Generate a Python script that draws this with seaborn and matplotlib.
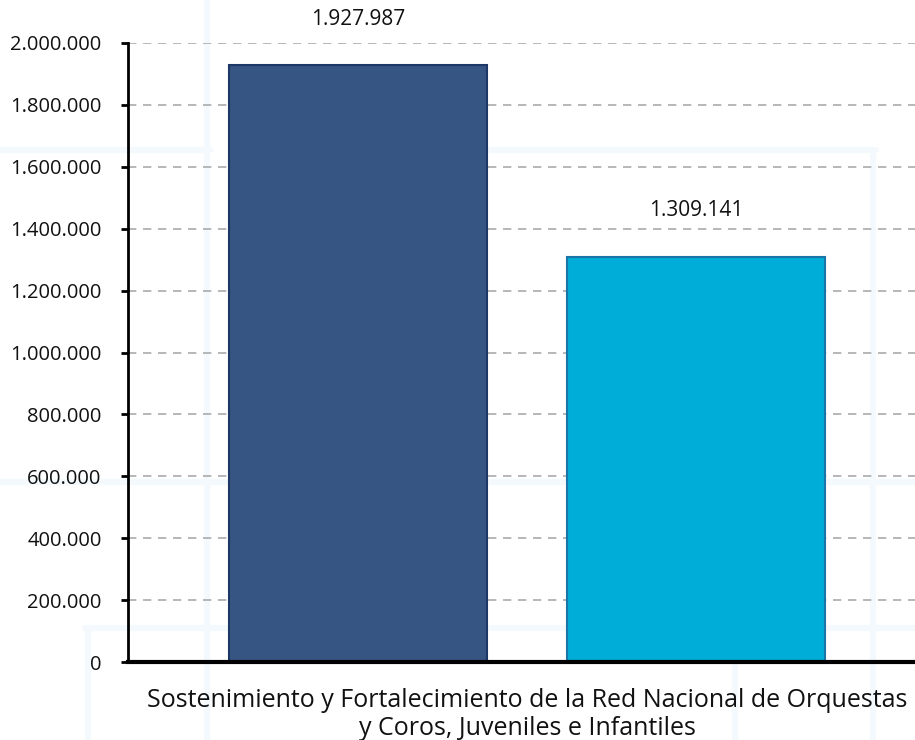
import matplotlib
matplotlib.use("Agg")
import matplotlib.pyplot as plt
from matplotlib.lines import Line2D
from matplotlib.ticker import FuncFormatter
import seaborn as sns
import pandas as pd

categories = ["Sostenimiento y Fortalecimiento de la Red Nacional de Orquestas\ny Coros, Juveniles e Infantiles"]
series = ["Serie 1", "Serie 2"]
values = [1927987, 1309141]
colors = ["#375582", "#00acd8"]
edges = ["#1d3867", "#1b75a8"]
yticks = [0, 200000, 400000, 600000, 800000, 1000000, 1200000, 1400000, 1600000, 1800000, 2000000]

df = pd.DataFrame({"cat": categories * len(series), "serie": series, "valor": values})

sns.set_style("white")
plt.rcParams["font.family"] = ["Open Sans", "DejaVu Sans"]

fig = plt.figure(figsize=(9.15, 7.4), dpi=100)
W, H = 915, 740

# faint watermark lines in background
def fl(x0, y0, x1, y1):
    fig.add_artist(Line2D([x0 / W, x1 / W], [1 - y0 / H, 1 - y1 / H], color="#f3f9fd",
                          lw=4.5, zorder=0, transform=fig.transFigure))

fl(207, 0, 207, 740)
fl(0, 150, 210, 150)
fl(487, 150, 876, 150)
fl(873, 150, 873, 740)
fl(0, 482, 915, 482)
fl(85, 628, 915, 628)
fl(88, 628, 88, 740)
fl(735, 628, 735, 740)

ax = fig.add_axes([128 / W, 1 - 662 / H, (915 - 128) / W, (662 - 43) / H])
ax.set_facecolor("none")

sns.barplot(data=df, x="cat", y="valor", hue="serie", palette=colors, saturation=1,
            width=0.86, gap=0.237, legend=False, ax=ax, zorder=3)
for p, e in zip(ax.patches, edges):
    p.set_edgecolor(e)
    p.set_linewidth(1.5)

ax.set_ylim(0, 2000000)
ax.set_xlim(-0.507, 0.493)
ax.set_yticks(yticks)
ax.yaxis.set_major_formatter(FuncFormatter(lambda v, _: f"{int(v):,}".replace(",", ".")))
ax.grid(axis="y", color="#aaaaaa", linestyle=(0, (5, 4)), linewidth=1.2, zorder=0)
ax.set_axisbelow(True)

for s in ["top", "right"]:
    ax.spines[s].set_visible(False)
ax.spines["left"].set_color("black")
ax.spines["left"].set_linewidth(2)
ax.spines["bottom"].set_color("black")
ax.spines["bottom"].set_linewidth(3)
ax.spines["left"].set_zorder(5)
ax.spines["bottom"].set_zorder(5)

ax.tick_params(axis="y", left=True, length=5, width=2, color="black", labelsize=14.5, pad=14, labelcolor="#111111")
ax.tick_params(axis="x", bottom=False, labelsize=18, pad=15, labelcolor="#111111")
ax.set_xlabel("")
ax.set_ylabel("")

for p, v in zip(ax.patches, values):
    ax.annotate(f"{v:,}".replace(",", "."), (p.get_x() + p.get_width() / 2, v),
                xytext=(0, 33), textcoords="offset points", ha="center", va="center",
                fontsize=15, color="#111111", annotation_clip=False)

fig.savefig("out.png", dpi=100)
